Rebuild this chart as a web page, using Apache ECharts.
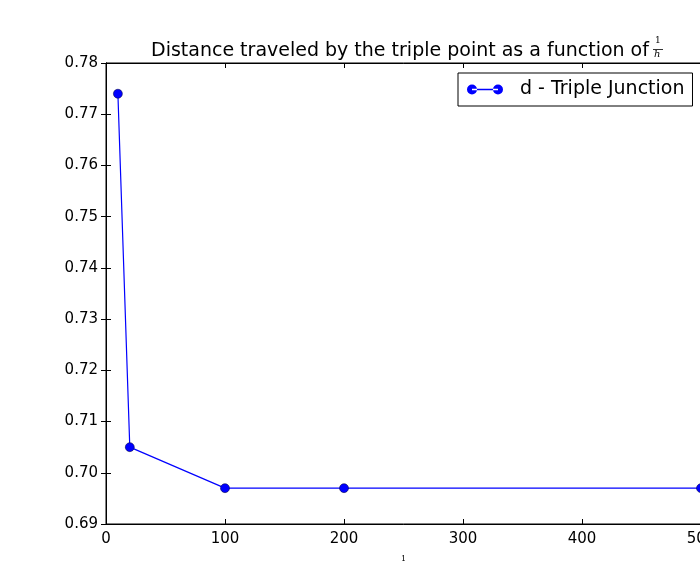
<!DOCTYPE html>
<html>
<head>
<meta charset="utf-8">
<script src="https://cdn.jsdelivr.net/npm/echarts@6/dist/echarts.min.js"></script>
<style>html,body{margin:0;padding:0;background:#fff;}#c{width:700px;height:564px;}</style>
</head>
<body>
<div id="c"></div>
<script>
var xValues = [10, 20, 100, 200, 500];
var dValues = [0.774, 0.705, 0.697, 0.697, 0.697];
var seriesName = 'd - Triple Junction';
var titleText = 'Distance traveled by the triple point as a function of';
var xTicks = [0, 100, 200, 300, 400, 500];
var yTicks = [0.69, 0.70, 0.71, 0.72, 0.73, 0.74, 0.75, 0.76, 0.77, 0.78];

var chart = echarts.init(document.getElementById('c'), null, {renderer: 'canvas'});
var font = 'DejaVu Sans';
var data = xValues.map(function (x, i) { return [x, dValues[i]]; });
var legendIcon = 'path://M0,5a5,5 0 1,0 10,0a5,5 0 1,0 -10,0z M26,5a5,5 0 1,0 10,0a5,5 0 1,0 -10,0z M5,4.2L31,4.2L31,5.8L5,5.8z';

chart.setOption({
  animation: false,
  backgroundColor: '#fff',
  textStyle: {fontFamily: font},
  grid: {left: 106, top: 63, width: 595, height: 461, show: true, borderColor: '#000', borderWidth: 1,
    containLabel: false, outerBoundsMode: 'none'},
  title: {
    text: titleText,
    left: 146, top: 37,
    textStyle: {fontFamily: font, fontSize: 19, fontWeight: 'normal', color: '#000'}
  },
  legend: {
    show: true,
    data: [{name: seriesName, icon: legendIcon}],
    left: 458, top: 73,
    itemWidth: 36, itemHeight: 10,
    padding: [7, 8, 7, 9],
    itemGap: 0,
    borderColor: '#000', borderWidth: 1, borderRadius: 0,
    backgroundColor: '#fff',
    itemStyle: {borderWidth: 0},
    textStyle: {fontFamily: font, fontSize: 19, color: '#000', padding: [0, 0, 0, 12]}
  },
  xAxis: [{
    type: 'value', min: 0, max: 500, interval: 100, position: 'bottom',
    name: '1', nameLocation: 'middle', nameGap: 31,
    nameTextStyle: {fontFamily: 'DejaVu Serif', fontSize: 8, color: '#000'},
    axisLine: {show: true, onZero: false, lineStyle: {color: '#000', width: 1}},
    axisTick: {show: true, inside: true, length: 5, lineStyle: {color: '#000'}},
    axisLabel: {fontFamily: font, fontSize: 15, color: '#000', margin: 8},
    splitLine: {show: false}
  }, {
    type: 'value', min: 0, max: 500, interval: 100, position: 'top',
    axisLine: {show: true, lineStyle: {color: '#000', width: 1}},
    axisTick: {show: true, inside: true, length: 5, lineStyle: {color: '#000'}},
    axisLabel: {show: false},
    splitLine: {show: false}
  }],
  yAxis: [{
    type: 'value', min: 0.69, max: 0.78, interval: 0.01, position: 'left',
    axisLine: {show: true, onZero: false, lineStyle: {color: '#000', width: 1}},
    axisTick: {show: true, inside: true, length: 5, lineStyle: {color: '#000'}},
    axisLabel: {fontFamily: font, fontSize: 15, color: '#000', margin: 8,
      formatter: function (v) { return v.toFixed(2); }},
    splitLine: {show: false}
  }, {
    type: 'value', min: 0.69, max: 0.78, interval: 0.01, position: 'right',
    axisLine: {show: true, lineStyle: {color: '#000', width: 1}},
    axisTick: {show: true, inside: true, length: 5, lineStyle: {color: '#000'}},
    axisLabel: {show: false},
    splitLine: {show: false}
  }],
  graphic: [
    {type: 'text', left: 655, top: 36, style: {text: '1', font: '9px "DejaVu Serif"', fill: '#000'}},
    {type: 'line', shape: {x1: 653, y1: 49.5, x2: 663, y2: 49.5}, style: {stroke: '#000', lineWidth: 0.8}},
    {type: 'text', left: 654, top: 49, style: {text: 'h', font: 'italic 10px "DejaVu Serif"', fill: '#000'}}
  ],
  series: [{
    name: seriesName,
    type: 'line',
    xAxisIndex: 0, yAxisIndex: 0,
    data: data,
    symbol: 'circle', symbolSize: 9,
    lineStyle: {color: '#0000ff', width: 1.2},
    itemStyle: {color: '#0000ff', borderColor: '#000033', borderWidth: 0.5},
    clip: false
  }]
});
</script>
</body>
</html>
